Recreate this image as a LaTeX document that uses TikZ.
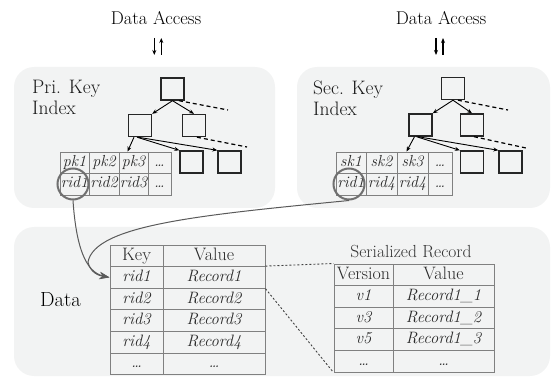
\documentclass[tikz,border=0pt]{standalone}
\usepackage{fontspec}
\usetikzlibrary{arrows.meta}
\definecolor{panelfill}{HTML}{F2F3F3}
\definecolor{tabline}{HTML}{808080}
\definecolor{tabtext}{HTML}{2A2A2A}
\definecolor{curvecol}{HTML}{5A5A5A}
\definecolor{circcol}{HTML}{707070}
\begin{document}
\begin{tikzpicture}[x=1pt,y=-1pt,
  panel/.style={fill=panelfill, draw=none, rounded corners=20pt},
  tbox/.style={draw=black!85, line width=1.4pt, minimum width=23pt, minimum height=22pt, inner sep=0pt},
  icell/.style={draw=tabline, line width=0.9pt, minimum height=21.5pt, inner sep=0pt,
    font=\fontsize{16}{17}\selectfont\itshape, text=tabtext, text height=10.5pt, text depth=3pt},
  dcell/.style={draw=tabline, line width=1pt, minimum height=21.6pt, inner sep=0pt,
    font=\fontsize{16.5}{18}\selectfont\itshape, text=tabtext, text height=11pt, text depth=3pt},
  hcell/.style={draw=tabline, line width=1pt, minimum height=21.6pt, inner sep=0pt,
    font=\fontsize{18}{19}\selectfont, text=tabtext, text height=11.5pt, text depth=3pt},
  tarrow/.style={-{Stealth[length=5pt,width=4pt]}, line width=0.9pt},
  tdash/.style={dash pattern=on 4pt off 3pt, line width=1.2pt},
  rdot/.style={dash pattern=on 2pt off 2pt, line width=0.9pt, draw=black!75},
  curv/.style={draw=curvecol, line width=1pt, -{Stealth[length=10pt,width=7pt]}},
  circ/.style={circle, draw=circcol, line width=2pt, minimum size=31pt, inner sep=0pt},
  daarrow/.style={-{Stealth[length=5pt,width=4pt]}, line width=1.1pt},
  biglab/.style={font=\fontsize{19.5}{21.5}\selectfont, text=black!90, inner sep=0pt},
]
\useasboundingbox (0,0) rectangle (552,377);

% panels
\path[panel] (14,67) rectangle (275,208);
\path[panel] (297,67) rectangle (550,208);
\path[panel] (14,227) rectangle (550,376);

% Data Access labels and arrows
\node[font=\fontsize{18.5}{20}\selectfont, anchor=base, inner sep=0pt] (da1) at (156,24.5) {Data Access};
\node[font=\fontsize{18.5}{20}\selectfont, anchor=base, inner sep=0pt] (da2) at (441,24.5) {Data Access};
\coordinate (a1d0) at (154.3,38); \coordinate (a1d1) at (154.3,55);
\coordinate (a1u0) at (161.3,55); \coordinate (a1u1) at (161.3,38);
\coordinate (a2d0) at (436,38); \coordinate (a2d1) at (436,55);
\coordinate (a2u0) at (443,55); \coordinate (a2u1) at (443,38);
\draw[daarrow] (a1d0) -- (a1d1);
\draw[daarrow] (a1u0) -- (a1u1);
\draw[daarrow] (a2d0) -- (a2d1);
\draw[daarrow] (a2u0) -- (a2u1);

% panel labels
\node[biglab, anchor=base west, align=left] (plab) at (32,115) {Pri. Key\\Index};
\node[biglab, anchor=base west, align=left] (slab) at (313,116) {Sec. Key\\Index};
\node[font=\fontsize{20.5}{24}\selectfont, anchor=base west, inner sep=0pt] (dlab) at (40,306) {Data};

% ---------- primary tree ----------
\node[tbox] (r1) at (172.5,89) {};
\node[tbox] (lf1) at (140,125.5) {};
\node[tbox] (rt1) at (194,125.5) {};
\node[tbox] (la1) at (191.5,162) {};
\node[tbox] (lb1) at (229.5,162) {};
% primary index table
\node[icell, minimum width=29pt] (p11) at (74.5,162.75) {pk1};
\node[icell, minimum width=30pt] (p12) at (104,162.75) {pk2};
\node[icell, minimum width=29pt] (p13) at (133.5,162.75) {pk3};
\node[icell, minimum width=23pt] (p14) at (159.5,162.75) {\dots};
\node[icell, minimum width=29pt] (p21) at (74.5,184.25) {rid1};
\node[icell, minimum width=30pt] (p22) at (104,184.25) {rid2};
\node[icell, minimum width=29pt] (p23) at (133.5,184.25) {rid3};
\node[icell, minimum width=23pt] (p24) at (159.5,184.25) {\dots};

\draw[tarrow] (r1.south) -- (lf1.north east);
\draw[tarrow] (r1.south) -- (rt1.north);
\draw[tarrow] ([xshift=-6pt]lf1.south) -- ([xshift=-6pt]p13.north);
\draw[tarrow] ([xshift=-3pt]lf1.south) -- (la1.north west);
\draw[tarrow] ([xshift=-2pt]lf1.south) -- (lb1.north west);
\coordinate (pd1) at (228,110);
\coordinate (pd2) at (247,147);
\draw[tdash] ([xshift=6.5pt]r1.south) -- (pd1);
\draw[tdash] ([xshift=3pt]rt1.south) -- (pd2);

% ---------- secondary tree ----------
\node[tbox] (r2) at (453,88.5) {};
\node[tbox] (lf2) at (420.5,125) {};
\node[tbox] (rt2) at (472,125) {};
\node[tbox] (la2) at (472,162) {};
\node[tbox] (lb2) at (510.5,162) {};
\node[icell, minimum width=30pt] (s11) at (351,162.75) {sk1};
\node[icell, minimum width=31pt] (s12) at (381.5,162.75) {sk2};
\node[icell, minimum width=31pt] (s13) at (412.5,162.75) {sk3};
\node[icell, minimum width=24pt] (s14) at (440,162.75) {\dots};
\node[icell, minimum width=30pt] (s21) at (351,184.25) {rid1};
\node[icell, minimum width=31pt] (s22) at (381.5,184.25) {rid4};
\node[icell, minimum width=31pt] (s23) at (412.5,184.25) {rid4};
\node[icell, minimum width=24pt] (s24) at (440,184.25) {\dots};

\draw[tarrow] (r2.south) -- (lf2.north east);
\draw[tarrow] (r2.south) -- (rt2.north);
\draw[tarrow] ([xshift=-6pt]lf2.south) -- ([xshift=-6pt]s13.north);
\draw[tarrow] ([xshift=-4pt]lf2.south) -- (la2.north west);
\draw[tarrow] ([xshift=-2.5pt]lf2.south) -- (lb2.north west);
\coordinate (sd1) at (508,110);
\coordinate (sd2) at (526,148);
\draw[tdash] ([xshift=5pt]r2.south) -- (sd1);
\draw[tdash] ([xshift=2pt]rt2.south) -- (sd2);

% ---------- data table ----------
\node[hcell, minimum width=53pt] (dk0) at (136.5,255.8) {Key};
\node[hcell, minimum width=102pt] (dv0) at (214,255.8) {Value};
\node[dcell, minimum width=53pt] (dk1) at (136.5,277.4) {rid1};
\node[dcell, minimum width=102pt] (dv1) at (214,277.4) {Record1};
\node[dcell, minimum width=53pt] (dk2) at (136.5,299) {rid2};
\node[dcell, minimum width=102pt] (dv2) at (214,299) {Record2};
\node[dcell, minimum width=53pt] (dk3) at (136.5,320.6) {rid3};
\node[dcell, minimum width=102pt] (dv3) at (214,320.6) {Record3};
\node[dcell, minimum width=53pt] (dk4) at (136.5,342.2) {rid4};
\node[dcell, minimum width=102pt] (dv4) at (214,342.2) {Record4};
\node[dcell, minimum width=53pt] (dk5) at (136.5,363.8) {\dots};
\node[dcell, minimum width=102pt] (dv5) at (214,363.8) {\dots};

% ---------- serialized record ----------
\node[font=\fontsize{17.5}{19}\selectfont, text=black!80, anchor=base, inner sep=0pt] (srt) at (411,257) {Serialized Record};
\node[hcell, minimum width=59pt] (sv0) at (363.5,274.8) {Version};
\node[hcell, minimum width=101pt] (sr0) at (443.5,274.8) {Value};
\node[dcell, minimum width=59pt] (sv1) at (363.5,296.4) {v1};
\node[dcell, minimum width=101pt] (sr1) at (443.5,296.4) {Record1\_1};
\node[dcell, minimum width=59pt] (sv2) at (363.5,318) {v3};
\node[dcell, minimum width=101pt] (sr2) at (443.5,318) {Record1\_2};
\node[dcell, minimum width=59pt] (sv3) at (363.5,339.6) {v5};
\node[dcell, minimum width=101pt] (sr3) at (443.5,339.6) {Record1\_3};
\node[dcell, minimum width=59pt] (sv4) at (363.5,361.2) {\dots};
\node[dcell, minimum width=101pt] (sr4) at (443.5,361.2) {\dots};

\draw[rdot] (dv1.north east) -- (sv0.north west);
\draw[rdot] (dv1.south east) -- (sv4.south west);

% ---------- circles and curves ----------
\node[circ] (c1) at (73,184) {};
\node[circ] (c2) at (349,184) {};
\draw[curv] (c1.south) .. controls (76,245) and (85,272) .. (dk1.west);
\draw[curv] (c2.south) .. controls (200,215) and (95,225) .. (88,262) .. controls (90,272) and (98,275.5) .. (dk1.west);
\end{tikzpicture}
\end{document}
